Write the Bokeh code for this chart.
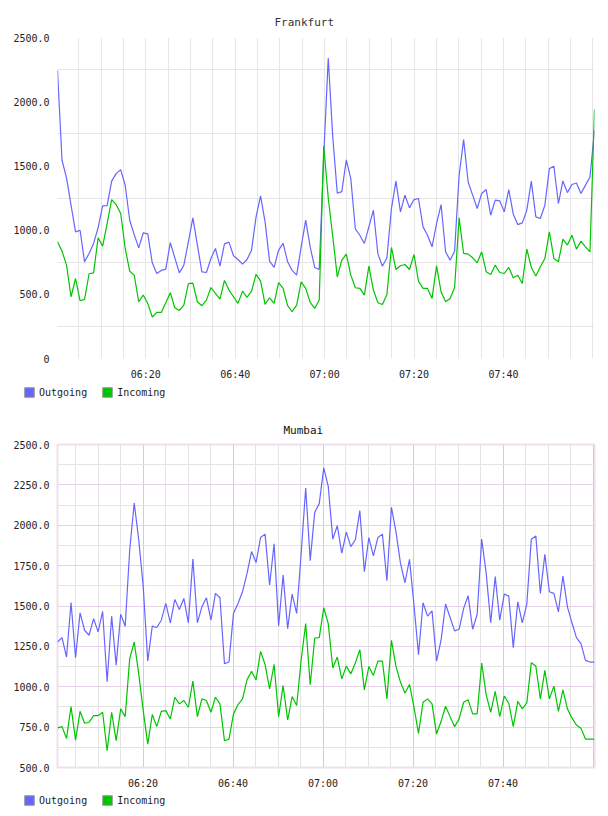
import numpy as np
from bokeh.plotting import figure
from bokeh.layouts import column
from bokeh.models import Range1d, FixedTicker, Legend, LegendItem, ColumnDataSource
from bokeh.embed import file_html
from bokeh.resources import INLINE

# Sample window of each site, in minutes after midnight (first and last sample)
frankfurt_first, frankfurt_last = 360.24, 480.37
mumbai_first, mumbai_last = 360.99, 480.32

frankfurt_outgoing = [
    2245, 1544, 1406, 1194, 986, 999, 753, 818, 896, 1018,
    1189, 1191, 1381, 1440, 1471, 1349, 1077, 965, 862, 979,
    971, 745, 662, 686, 696, 903, 784, 667, 727, 909,
    1095, 883, 675, 670, 779, 857, 719, 893, 906, 800,
    771, 735, 771, 844, 1103, 1266, 1064, 758, 709, 844,
    896, 753, 686, 649, 870, 1077, 867, 709, 693, 1580,
    2340, 1723, 1287, 1300, 1547, 1399, 1010, 960, 896, 1025,
    1155, 815, 719, 784, 1168, 1381, 1142, 1272, 1173, 1238,
    1246, 1025, 960, 870, 1051, 1199, 831, 766, 836, 1427,
    1705, 1375, 1272, 1168, 1285, 1316, 1116, 1233, 1228, 1142,
    1316, 1124, 1043, 1056, 1155, 1381, 1103, 1090, 1194, 1479,
    1497, 1207, 1383, 1292, 1355, 1367, 1285, 1350, 1414, 1777,
]
frankfurt_incoming = [
    909, 836, 727, 481, 623, 450, 460, 660, 667, 940,
    875, 1051, 1238, 1199, 1129, 857, 680, 649, 442, 494,
    429, 323, 359, 359, 434, 512, 395, 374, 416, 584,
    587, 442, 411, 455, 553, 507, 463, 608, 533, 481,
    429, 525, 476, 525, 655, 605, 421, 473, 429, 590,
    546, 411, 364, 416, 597, 546, 437, 390, 455, 1653,
    1250, 950, 636, 766, 813, 649, 551, 546, 494, 719,
    533, 434, 421, 499, 865, 693, 722, 732, 693, 810,
    603, 546, 546, 468, 722, 520, 442, 468, 553, 1095,
    818, 813, 784, 745, 831, 675, 655, 727, 670, 662,
    709, 629, 649, 584, 852, 709, 642, 714, 779, 986,
    779, 753, 929, 883, 960, 852, 914, 870, 831, 1941,
]
mumbai_outgoing = [
    1277, 1304, 1184, 1522, 1180, 1458, 1350, 1319, 1422, 1340,
    1466, 1031, 1437, 1134, 1449, 1375, 1847, 2138, 1910, 1619,
    1159, 1375, 1367, 1412, 1516, 1396, 1541, 1478, 1547, 1396,
    1791, 1396, 1495, 1551, 1412, 1578, 1551, 1143, 1153, 1454,
    1516, 1588, 1702, 1837, 1769, 1924, 1945, 1630, 1885, 1377,
    1692, 1360, 1574, 1454, 1827, 2231, 1781, 2080, 2134, 2355,
    2241, 1914, 1997, 1827, 1957, 1868, 1910, 2090, 1713, 1924,
    1810, 1924, 1945, 1657, 2111, 1961, 1765, 1644, 1789, 1505,
    1199, 1520, 1437, 1470, 1159, 1288, 1512, 1429, 1346, 1356,
    1485, 1563, 1356, 1449, 1914, 1702, 1396, 1682, 1412, 1574,
    1561, 1242, 1526, 1396, 1512, 1914, 1934, 1578, 1820, 1588,
    1578, 1464, 1686, 1495, 1396, 1304, 1267, 1163, 1153, 1153,
]
mumbai_incoming = [
    745, 753, 680, 877, 670, 848, 774, 780, 821, 821,
    842, 604, 842, 666, 863, 815, 1174, 1277, 1080, 852,
    645, 828, 753, 848, 852, 801, 935, 894, 915, 873,
    1035, 815, 925, 915, 842, 935, 894, 666, 676, 832,
    890, 925, 1043, 1095, 1043, 1219, 1138, 987, 1138, 815,
    1008, 794, 939, 884, 1167, 1391, 1012, 1302, 1304, 1489,
    1391, 1116, 1184, 1049, 1128, 1080, 1147, 1230, 981, 1126,
    1070, 1159, 1159, 925, 1288, 1126, 1029, 960, 1014, 873,
    711, 904, 925, 894, 707, 786, 879, 815, 753, 801,
    904, 919, 832, 832, 1147, 950, 842, 971, 815, 942,
    898, 753, 910, 863, 900, 1149, 1128, 925, 1101, 925,
    1004, 848, 981, 863, 807, 763, 743, 676, 676, 676,
]

x_tick_minutes = [380, 400, 420, 440, 460]
x_tick_labels = ["06:20", "06:40", "07:00", "07:20", "07:40"]

frankfurt_y_ticks = [0, 500, 1000, 1500, 2000, 2500]
frankfurt_y_labels = ["0", "500.0", "1000.0", "1500.0", "2000.0", "2500.0"]
mumbai_y_ticks = [500, 750, 1000, 1250, 1500, 1750, 2000, 2250, 2500]
mumbai_y_labels = ["500.0", "750.0", "1000.0", "1250.0", "1500.0",
                   "1750.0", "2000.0", "2250.0", "2500.0"]

series_names = ["Outgoing", "Incoming"]

OUT_COLOR = "#6666ff"
IN_COLOR = "#00c400"
MONO = "DejaVu Sans Mono"

five_minute_marks = list(range(365, 481, 5))


def build_chart(title, title_offset, title_color, title_standoff, first, last,
                outgoing, incoming, y_range, y_ticks, y_labels,
                border_top, frame_h, border_bottom):
    times = np.linspace(first, last, len(outgoing))
    src = ColumnDataSource(dict(t=times, out=outgoing, inc=incoming))

    p = figure(frame_width=537, frame_height=frame_h, output_backend="svg",
               toolbar_location=None,
               x_range=Range1d(first, last), y_range=Range1d(*y_range),
               min_border_left=57, min_border_right=14,
               min_border_top=border_top, min_border_bottom=border_bottom)
    p.background_fill_color = "white"
    p.border_fill_color = "white"

    p.title.text = title
    p.title.align = "left"
    p.title.offset = title_offset
    p.title.text_font = MONO
    p.title.text_font_size = "11px"
    p.title.text_font_style = "normal"
    p.title.text_color = title_color
    p.title.standoff = title_standoff

    p.line("t", "out", source=src, line_color=OUT_COLOR, line_width=1.2)
    p.line("t", "inc", source=src, line_color=IN_COLOR, line_width=1.2)

    for ax in (p.xaxis[0], p.yaxis[0]):
        ax.axis_line_color = None
        ax.major_tick_line_color = None
        ax.minor_tick_line_color = None
        ax.major_label_text_font = MONO
        ax.major_label_text_font_size = "10px"
        ax.major_label_text_color = "#222222"

    p.xaxis.ticker = FixedTicker(ticks=x_tick_minutes)
    p.xaxis.major_label_overrides = dict(zip(x_tick_minutes, x_tick_labels))
    p.xaxis.major_label_standoff = 4
    p.yaxis.ticker = FixedTicker(ticks=y_ticks)
    p.yaxis.major_label_overrides = dict(zip(y_ticks, y_labels))
    p.yaxis.major_label_standoff = 2
    return p


def build_legend(strip_h):
    # a thin strip holding only the colour key under each chart
    p = figure(width=608, height=strip_h, output_backend="svg", toolbar_location=None,
               x_axis_type=None, y_axis_type=None, x_range=Range1d(0, 1),
               y_range=Range1d(0, 1), min_border=0, outline_line_color=None)
    if "frame_align" in p.properties():
        p.frame_align = False
    p.grid.visible = False
    p.background_fill_color = "white"
    p.border_fill_color = "white"
    # one placeholder row (not drawn) so the key has something to style
    holder = ColumnDataSource(dict(l=[np.nan], r=[np.nan], t=[np.nan], b=[np.nan]))
    items = []
    for name, color in zip(series_names, [OUT_COLOR, IN_COLOR]):
        sw = p.quad(left="l", right="r", top="t", bottom="b", source=holder,
                    fill_color=color, line_color="#999999")
        items.append(LegendItem(label=name, renderers=[sw]))
    legend = Legend(items=items, orientation="horizontal",
                    location=(23, strip_h - 12 - (1 if strip_h > 22 else 0)),
                    glyph_width=12, glyph_height=12, label_height=12, label_width=10,
                    label_standoff=4, spacing=14, padding=0, margin=0,
                    border_line_color=None, background_fill_alpha=0,
                    label_text_font=MONO, label_text_font_size="10px",
                    label_text_color="#222222")
    p.add_layout(legend, "center")
    return p


top = build_chart("Frankfurt", 217, "#333333", 18, frankfurt_first, frankfurt_last,
                  frankfurt_outgoing, frankfurt_incoming, (0, 2500),
                  frankfurt_y_ticks, frankfurt_y_labels, 37, 321, 28)
top.outline_line_color = None
top.xgrid.ticker = FixedTicker(ticks=five_minute_marks)
top.xgrid.grid_line_color = "#e6e6e6"
top.ygrid.ticker = FixedTicker(ticks=[250, 750, 1250, 1750, 2250])
top.ygrid.grid_line_color = "#e6e6e6"

bottom = build_chart("Mumbai", 226, "#111111", 16, mumbai_first, mumbai_last,
                     mumbai_outgoing, mumbai_incoming, (500, 2500),
                     mumbai_y_ticks, mumbai_y_labels, 36, 323, 26)
bottom.outline_line_color = "#eee0ee"
bottom.outline_line_width = 2
bottom.xgrid.ticker = FixedTicker(ticks=[m for m in five_minute_marks if m % 20 == 0],
                                  minor_ticks=[m for m in five_minute_marks if m % 20])
bottom.xgrid.grid_line_color = "#dcc6dc"
bottom.xgrid.minor_grid_line_color = "#e4e4e4"
bottom.ygrid.ticker = FixedTicker(ticks=mumbai_y_ticks,
                                  minor_ticks=[625, 875, 1125, 1375, 1625, 1875, 2125, 2375])
bottom.ygrid.grid_line_color = "#e6d2e6"
bottom.ygrid.minor_grid_line_color = "#e4e4e4"

page = column(top, build_legend(22), bottom, build_legend(23), spacing=0)
open("out.html", "w").write(file_html(page, INLINE))
